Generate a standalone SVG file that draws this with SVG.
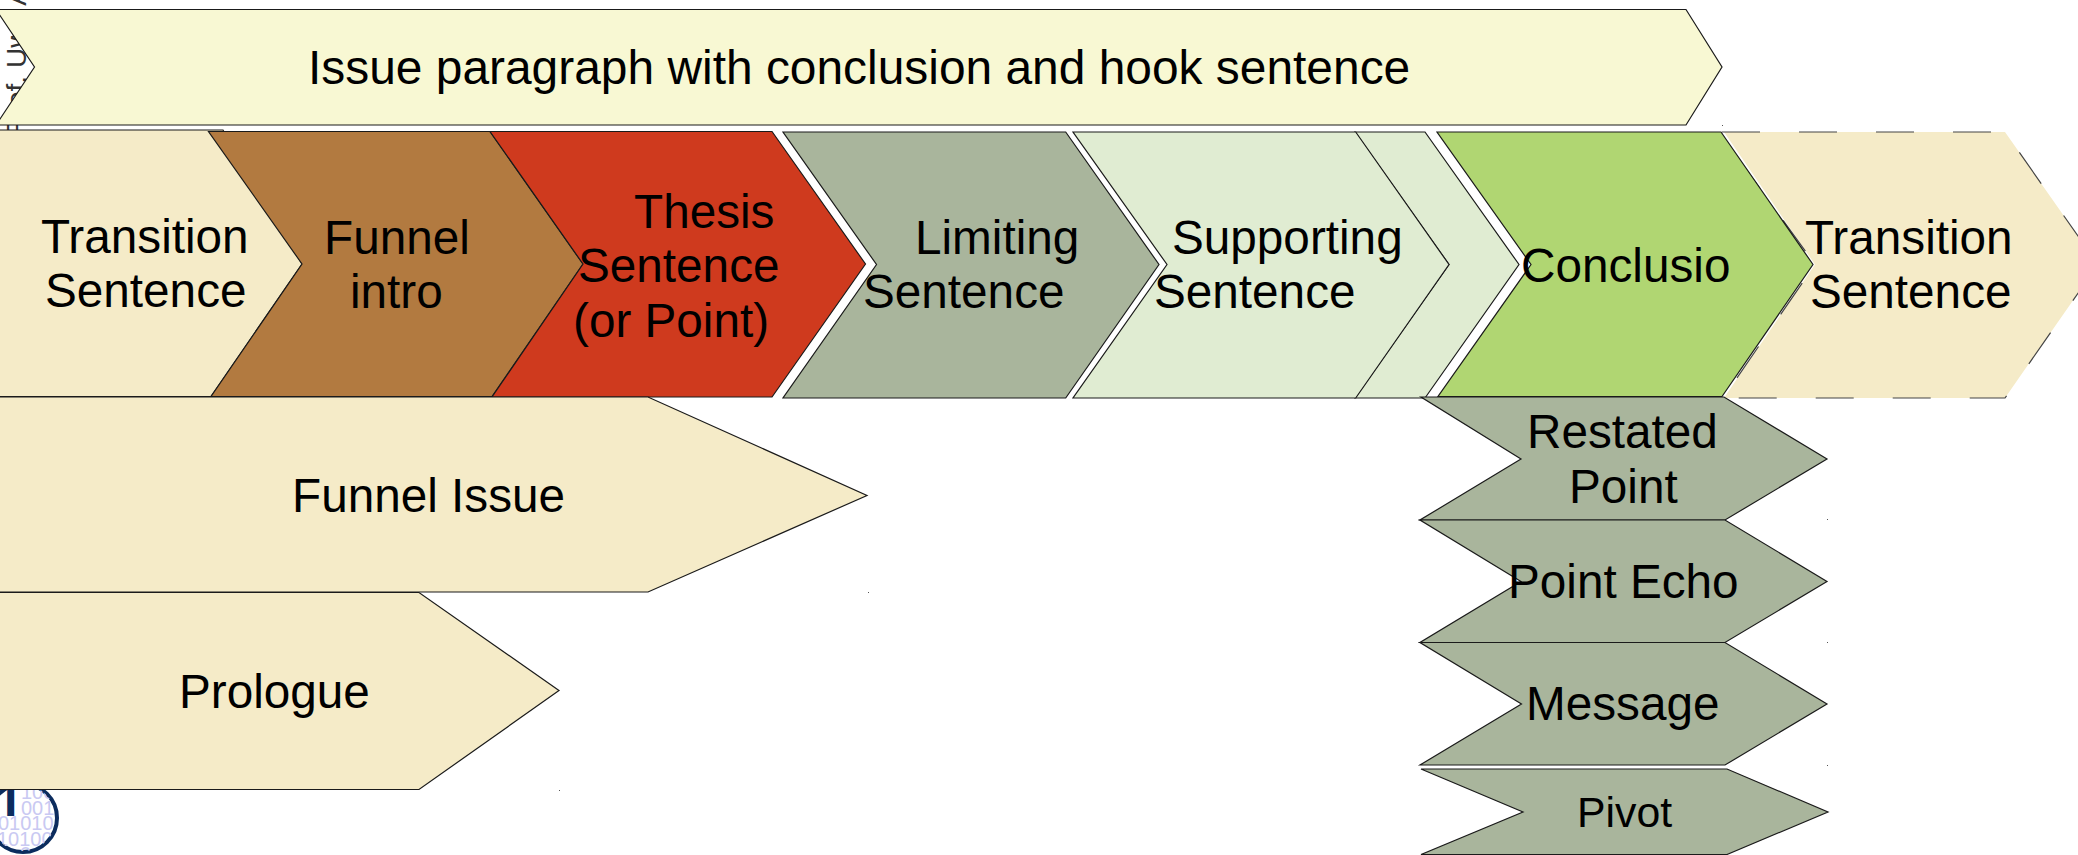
<svg xmlns="http://www.w3.org/2000/svg" width="2078" height="855" viewBox="0 0 2078 855">
<defs><clipPath id="logo"><circle cx="23" cy="818" r="33"/></clipPath></defs>
<style>
.s{stroke:#1a1a1a;stroke-width:1.2;stroke-linejoin:miter}
.t{font-family:"Liberation Sans",Arial,sans-serif;font-size:47.7px;fill:#000}
.cream{fill:#f5ebc8}.sage{fill:#a9b59c}.pale{fill:#e0ecd2}
.bin{font-family:"Liberation Sans",Arial,sans-serif;font-size:20px;fill:#c9c9f2}
.dot{fill:#555}
</style>
<rect width="2078" height="855" fill="#fff"/>
<g id="footer">
<text transform="translate(26 135) rotate(-90)" style="font-family:'Liberation Sans',sans-serif;font-size:28px;fill:#333">Prof. Uwe Aßmann</text>
<circle cx="23" cy="818" r="34" fill="#fff" stroke="#0b2c5e" stroke-width="4"/>
<g clip-path="url(#logo)">
<text class="bin" x="21" y="799">100</text>
<text class="bin" x="21" y="815">001</text>
<text class="bin" x="-2" y="830">01010</text>
<text class="bin" x="-3" y="846">10100</text>
<text class="bin" x="20" y="861">0</text>
</g>
<text x="-36" y="816" style="font-family:'Liberation Sans',sans-serif;font-weight:bold;font-size:48px;fill:#0b2c5e">ST</text>
</g>
<g id="issue-paragraph"><polygon class="s" fill="#f8f8d3" points="-4,9.5 1686,9.5 1722,67 1686,125 -4,125 34.5,67"/>
<text class="t" x="308" y="84" style="font-size:47.9px">Issue paragraph with conclusion and hook sentence</text></g>
<g id="transition-left"><polygon class="s cream" points="-10,130 223,130 302,264 211,396.5 -10,396.5"/>
<text class="t" x="41" y="253">Transition</text><text class="t" x="45" y="307">Sentence</text></g>
<g id="funnel-intro"><polygon class="s" fill="#b27a40" points="208.5,131.5 490,131.5 583,264 492,396.5 211,396.5 302,264"/>
<text class="t" x="324" y="254">Funnel</text><text class="t" x="350" y="308">intro</text></g>
<g id="thesis"><polygon class="s" fill="#cf3a1e" points="490,131.5 772,131.5 865.5,264 772,397 492,397 583,264"/>
<text class="t" x="634" y="228">Thesis</text><text class="t" x="578" y="282">Sentence</text><text class="t" x="573" y="337">(or Point)</text></g>
<g id="limiting"><polygon class="s sage" points="783,132 1065.7,132 1159,264.5 1065.7,398 783,398 876.5,264.5"/>
<text class="t" x="915" y="254">Limiting</text><text class="t" x="863" y="308">Sentence</text></g>
<g id="supporting-behind"><polygon class="s pale" points="1355,132 1425,132 1519,264.5 1425,398 1355,398 1449,264.5"/></g>
<g id="supporting"><polygon class="s pale" points="1073,132 1355.7,132 1449,264.5 1355.7,398 1073,398 1167,264.5"/>
<text class="t" x="1172" y="254">Supporting</text><text class="t" x="1154" y="308">Sentence</text></g>
<g id="transition-right"><polygon class="cream" points="1724,132 2005,132 2098,264.5 2005,398 1724,398 1815,264.5"/>
<path d="M1722,132H2005L2098,264.5" fill="none" stroke="#444" stroke-width="1.2" stroke-dasharray="38 39"/>
<path d="M2098,264.5L2005,398H1722" fill="none" stroke="#444" stroke-width="1.2" stroke-dasharray="38 39" stroke-dashoffset="-6"/>
<path d="M1738,158L1815,264.5L1730,388" fill="none" stroke="#444" stroke-width="1.2" stroke-dasharray="38 39"/>
<text class="t" x="1805" y="254">Transition</text><text class="t" x="1810" y="308">Sentence</text></g>
<g id="conclusion"><polygon class="s" fill="#b0d672" points="1437,132 1721,132 1813,264.5 1722,396.5 1438,396.5 1531,264.5"/>
<text class="t" x="1521" y="282">Conclusio</text></g>
<g id="funnel-issue"><polygon class="s cream" points="-10,397 648,397 867,495.5 648,592 -10,592"/>
<text class="t" x="292" y="512">Funnel Issue</text></g>
<g id="prologue"><polygon class="s cream" points="-10,592.5 419,592.5 559,690.5 419,789.5 -10,789.5"/>
<text class="t" x="179" y="708">Prologue</text></g>
<g id="restated"><polygon class="s sage" points="1421,397 1724,397 1827,459 1725,520 1420,520 1521,459"/>
<text class="t" x="1527" y="448">Restated</text><text class="t" x="1569" y="503">Point</text></g>
<g id="point-echo"><polygon class="s sage" points="1420,520 1725,520 1827,581.5 1725,642.5 1420,642.5 1521,581.5"/>
<text class="t" x="1508" y="598">Point Echo</text></g>
<g id="message"><polygon class="s sage" points="1420,642.5 1725,642.5 1827,704 1725,765 1420,765 1521.5,704"/>
<text class="t" x="1526" y="720">Message</text></g>
<g id="pivot"><polygon class="s sage" points="1421,769 1727,769 1828,812 1727,854.5 1421,854.5 1523,812"/>
<text class="t" x="1577" y="827" style="font-size:42.8px">Pivot</text></g>
<g id="specks"><rect class="dot" x="1827" y="519" width="1" height="1"/><rect class="dot" x="1827" y="642" width="1" height="1"/><rect class="dot" x="1827" y="765" width="1" height="1"/><rect class="dot" x="868" y="592" width="1" height="1"/><rect class="dot" x="559" y="790" width="1" height="1"/><rect class="dot" x="1722" y="125" width="1" height="1"/></g>
</svg>
